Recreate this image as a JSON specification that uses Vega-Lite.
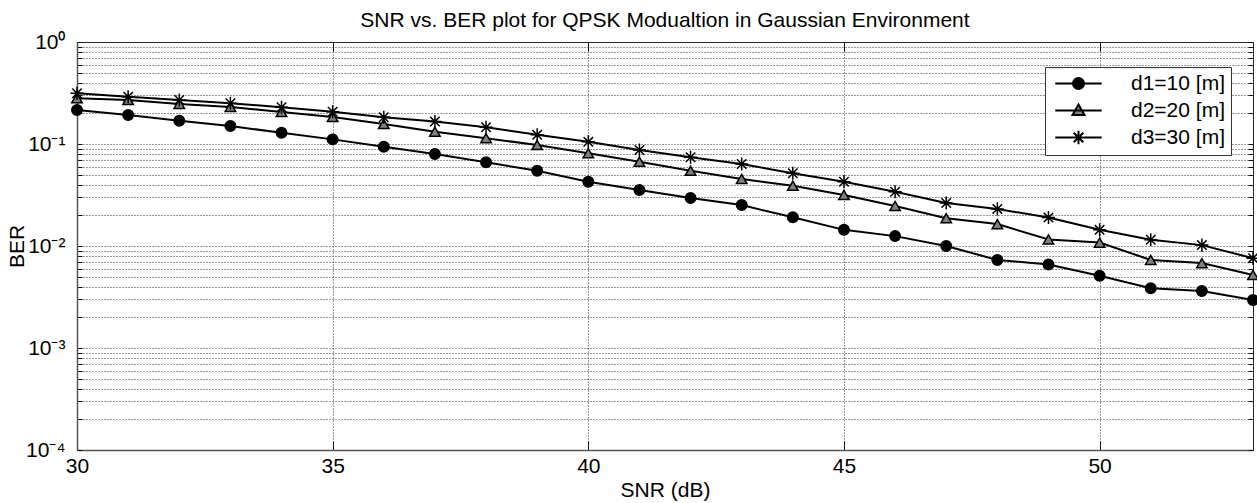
{
  "$schema": "https://vega.github.io/schema/vega-lite/v6.json",
  "width": 1176,
  "height": 408,
  "autosize": {"type": "none"},
  "padding": {"left": 77, "top": 42, "right": 4, "bottom": 53},
  "background": "white",
  "title": {"text": "SNR vs. BER plot for QPSK Modualtion in Gaussian Environment", "fontSize": 21, "fontWeight": "normal", "font": "Liberation Sans", "color": "#000", "anchor": "middle", "offset": 0},
  "config": {
    "font": "Liberation Sans",
    "view": {"stroke": "#222", "strokeWidth": 1},
    "axis": {"labelFont": "Liberation Sans", "titleFont": "Liberation Sans", "labelColor": "#000", "titleColor": "#000", "titleFontWeight": "normal", "labelFontSize": 21, "titleFontSize": 21, "labelFlush": false, "gridColor": "#333", "gridDash": [1, 2], "gridOpacity": 1, "gridWidth": 1, "tickColor": "#111", "tickWidth": 1, "domainColor": "#555", "domainWidth": 1.5}
  },
  "data": {"values": [
    {"snr": 30, "ber": 0.215, "series": "d1=10 [m]"},
    {"snr": 31, "ber": 0.192, "series": "d1=10 [m]"},
    {"snr": 32, "ber": 0.169, "series": "d1=10 [m]"},
    {"snr": 33, "ber": 0.150, "series": "d1=10 [m]"},
    {"snr": 34, "ber": 0.129, "series": "d1=10 [m]"},
    {"snr": 35, "ber": 0.111, "series": "d1=10 [m]"},
    {"snr": 36, "ber": 0.094, "series": "d1=10 [m]"},
    {"snr": 37, "ber": 0.0798, "series": "d1=10 [m]"},
    {"snr": 38, "ber": 0.0662, "series": "d1=10 [m]"},
    {"snr": 39, "ber": 0.0547, "series": "d1=10 [m]"},
    {"snr": 40, "ber": 0.0427, "series": "d1=10 [m]"},
    {"snr": 41, "ber": 0.0354, "series": "d1=10 [m]"},
    {"snr": 42, "ber": 0.0295, "series": "d1=10 [m]"},
    {"snr": 43, "ber": 0.0252, "series": "d1=10 [m]"},
    {"snr": 44, "ber": 0.0191, "series": "d1=10 [m]"},
    {"snr": 45, "ber": 0.0144, "series": "d1=10 [m]"},
    {"snr": 46, "ber": 0.0125, "series": "d1=10 [m]"},
    {"snr": 47, "ber": 0.0100, "series": "d1=10 [m]"},
    {"snr": 48, "ber": 0.0073, "series": "d1=10 [m]"},
    {"snr": 49, "ber": 0.0066, "series": "d1=10 [m]"},
    {"snr": 50, "ber": 0.0051, "series": "d1=10 [m]"},
    {"snr": 51, "ber": 0.00385, "series": "d1=10 [m]"},
    {"snr": 52, "ber": 0.00362, "series": "d1=10 [m]"},
    {"snr": 53, "ber": 0.00296, "series": "d1=10 [m]"},
    {"snr": 30, "ber": 0.281, "series": "d2=20 [m]"},
    {"snr": 31, "ber": 0.270, "series": "d2=20 [m]"},
    {"snr": 32, "ber": 0.247, "series": "d2=20 [m]"},
    {"snr": 33, "ber": 0.231, "series": "d2=20 [m]"},
    {"snr": 34, "ber": 0.206, "series": "d2=20 [m]"},
    {"snr": 35, "ber": 0.184, "series": "d2=20 [m]"},
    {"snr": 36, "ber": 0.157, "series": "d2=20 [m]"},
    {"snr": 37, "ber": 0.132, "series": "d2=20 [m]"},
    {"snr": 38, "ber": 0.114, "series": "d2=20 [m]"},
    {"snr": 39, "ber": 0.0977, "series": "d2=20 [m]"},
    {"snr": 40, "ber": 0.0811, "series": "d2=20 [m]"},
    {"snr": 41, "ber": 0.067, "series": "d2=20 [m]"},
    {"snr": 42, "ber": 0.0547, "series": "d2=20 [m]"},
    {"snr": 43, "ber": 0.0454, "series": "d2=20 [m]"},
    {"snr": 44, "ber": 0.039, "series": "d2=20 [m]"},
    {"snr": 45, "ber": 0.0316, "series": "d2=20 [m]"},
    {"snr": 46, "ber": 0.0247, "series": "d2=20 [m]"},
    {"snr": 47, "ber": 0.0187, "series": "d2=20 [m]"},
    {"snr": 48, "ber": 0.0164, "series": "d2=20 [m]"},
    {"snr": 49, "ber": 0.0116, "series": "d2=20 [m]"},
    {"snr": 50, "ber": 0.0108, "series": "d2=20 [m]"},
    {"snr": 51, "ber": 0.0073, "series": "d2=20 [m]"},
    {"snr": 52, "ber": 0.0068, "series": "d2=20 [m]"},
    {"snr": 53, "ber": 0.0052, "series": "d2=20 [m]"},
    {"snr": 30, "ber": 0.314, "series": "d3=30 [m]"},
    {"snr": 31, "ber": 0.291, "series": "d3=30 [m]"},
    {"snr": 32, "ber": 0.270, "series": "d3=30 [m]"},
    {"snr": 33, "ber": 0.251, "series": "d3=30 [m]"},
    {"snr": 34, "ber": 0.229, "series": "d3=30 [m]"},
    {"snr": 35, "ber": 0.207, "series": "d3=30 [m]"},
    {"snr": 36, "ber": 0.183, "series": "d3=30 [m]"},
    {"snr": 37, "ber": 0.166, "series": "d3=30 [m]"},
    {"snr": 38, "ber": 0.146, "series": "d3=30 [m]"},
    {"snr": 39, "ber": 0.123, "series": "d3=30 [m]"},
    {"snr": 40, "ber": 0.105, "series": "d3=30 [m]"},
    {"snr": 41, "ber": 0.0873, "series": "d3=30 [m]"},
    {"snr": 42, "ber": 0.0741, "series": "d3=30 [m]"},
    {"snr": 43, "ber": 0.0637, "series": "d3=30 [m]"},
    {"snr": 44, "ber": 0.0516, "series": "d3=30 [m]"},
    {"snr": 45, "ber": 0.0427, "series": "d3=30 [m]"},
    {"snr": 46, "ber": 0.034, "series": "d3=30 [m]"},
    {"snr": 47, "ber": 0.0264, "series": "d3=30 [m]"},
    {"snr": 48, "ber": 0.0231, "series": "d3=30 [m]"},
    {"snr": 49, "ber": 0.019, "series": "d3=30 [m]"},
    {"snr": 50, "ber": 0.0144, "series": "d3=30 [m]"},
    {"snr": 51, "ber": 0.0115, "series": "d3=30 [m]"},
    {"snr": 52, "ber": 0.0102, "series": "d3=30 [m]"},
    {"snr": 53, "ber": 0.0076, "series": "d3=30 [m]"}
  ]},
  "resolve": {"axis": {"x": "independent", "y": "independent"}},
  "layer": [
    {
      "mark": {"type": "line", "color": "#000", "strokeWidth": 2},
      "encoding": {
        "x": {"field": "snr", "type": "quantitative", "scale": {"domain": [30, 53], "nice": false, "zero": false},
          "axis": {"title": "SNR (dB)", "values": [30, 35, 40, 45, 50], "grid": true, "ticks": true, "tickSize": -9, "labelPadding": 14, "titlePadding": 3, "format": "d"}},
        "y": {"field": "ber", "type": "quantitative", "scale": {"type": "log", "domain": [0.0001, 1], "nice": false},
          "axis": {"title": "BER", "titleX": -50, "titleY": 204, "labelPadding": 17, "grid": true, "ticks": true, "tickSize": -5,
            "values": [0.0001, 0.0002, 0.0003, 0.0004, 0.0005, 0.0006, 0.0007, 0.0008, 0.0009, 0.001, 0.002, 0.003, 0.004, 0.005, 0.006, 0.007, 0.008, 0.009, 0.01, 0.02, 0.03, 0.04, 0.05, 0.06, 0.07, 0.08, 0.09, 0.1, 0.2, 0.3, 0.4, 0.5, 0.6, 0.7, 0.8, 0.9, 1],
            "labelExpr": "datum.value == 1 ? '10⁰' : datum.value == 0.1 ? '10⁻¹' : datum.value == 0.01 ? '10⁻²' : datum.value == 0.001 ? '10⁻³' : datum.value == 0.0001 ? '10⁻⁴' : ''"}},
        "detail": {"field": "series", "type": "nominal"}
      }
    },
    {
      "transform": [{"filter": "datum.series == 'd1=10 [m]'"}],
      "mark": {"type": "point", "shape": "circle", "filled": true, "size": 110, "stroke": "#000", "strokeWidth": 1.5, "opacity": 1},
      "encoding": {
        "x": {"field": "snr", "type": "quantitative",
          "axis": {"orient": "top", "title": null, "labels": false, "grid": false, "domain": false, "ticks": true, "tickSize": -9, "values": [35, 40, 45, 50]}},
        "y": {"field": "ber", "type": "quantitative",
          "axis": {"orient": "right", "title": null, "labels": false, "grid": false, "domain": false, "ticks": true, "tickSize": -5,
            "values": [0.0001, 0.0002, 0.0003, 0.0004, 0.0005, 0.0006, 0.0007, 0.0008, 0.0009, 0.001, 0.002, 0.003, 0.004, 0.005, 0.006, 0.007, 0.008, 0.009, 0.01, 0.02, 0.03, 0.04, 0.05, 0.06, 0.07, 0.08, 0.09, 0.1, 0.2, 0.3, 0.4, 0.5, 0.6, 0.7, 0.8, 0.9, 1]}},
        "fill": {"field": "series", "type": "nominal",
          "scale": {"domain": ["d1=10 [m]", "d2=20 [m]", "d3=30 [m]"], "range": ["#000000", "#808080", "#000000"]},
          "legend": {
            "title": null, "orient": "none", "legendX": 968, "legendY": 25,
            "fillColor": "white", "strokeColor": "#333", "padding": 6,
            "labelFontSize": 21, "labelFont": "Liberation Sans", "labelColor": "#000",
            "symbolSize": 256, "symbolOffset": 17, "labelOffset": 42, "rowPadding": 5,
            "symbolStrokeColor": "#000", "symbolStrokeWidth": 2,
            "encoding": {"symbols": {
              "shape": {"value": {"expr": "datum.value == 'd1=10 [m]' ? 'M-2.9,0H2.9M-0.69,0A0.69,0.69,0,1,0,0.69,0A0.69,0.69,0,1,0,-0.69,0Z' : datum.value == 'd2=20 [m]' ? 'M-2.9,0H2.9M-0.75,0.55L0.75,0.55L0,-0.75Z' : 'M-2.9,0H2.9M0,-0.85L0,0.85M-0.85,0L0.85,0M-0.6,-0.6L0.6,0.6M-0.6,0.6L0.6,-0.6'"}},
              "stroke": {"value": "#000"},
              "strokeWidth": {"value": 2},
              "opacity": {"value": 1}
            }}
          }}
      }
    },
    {
      "transform": [{"filter": "datum.series == 'd2=20 [m]'"}],
      "mark": {"type": "point", "shape": "triangle-up", "filled": true, "size": 110, "stroke": "#000", "strokeWidth": 1.5, "opacity": 1},
      "encoding": {
        "x": {"field": "snr", "type": "quantitative", "axis": null},
        "y": {"field": "ber", "type": "quantitative", "axis": null},
        "fill": {"field": "series", "type": "nominal",
          "scale": {"domain": ["d1=10 [m]", "d2=20 [m]", "d3=30 [m]"], "range": ["#000000", "#808080", "#000000"]}}
      }
    },
    {
      "transform": [{"filter": "datum.series == 'd3=30 [m]'"}],
      "mark": {"type": "point", "shape": "M0,-1.25L0,1.25M-1.25,0L1.25,0M-0.9,-0.9L0.9,0.9M-0.9,0.9L0.9,-0.9", "filled": true, "size": 110, "stroke": "#000", "strokeWidth": 1.5, "opacity": 1},
      "encoding": {
        "x": {"field": "snr", "type": "quantitative", "axis": null},
        "y": {"field": "ber", "type": "quantitative", "axis": null},
        "fill": {"field": "series", "type": "nominal",
          "scale": {"domain": ["d1=10 [m]", "d2=20 [m]", "d3=30 [m]"], "range": ["#000000", "#808080", "#000000"]}}
      }
    }
  ]
}
